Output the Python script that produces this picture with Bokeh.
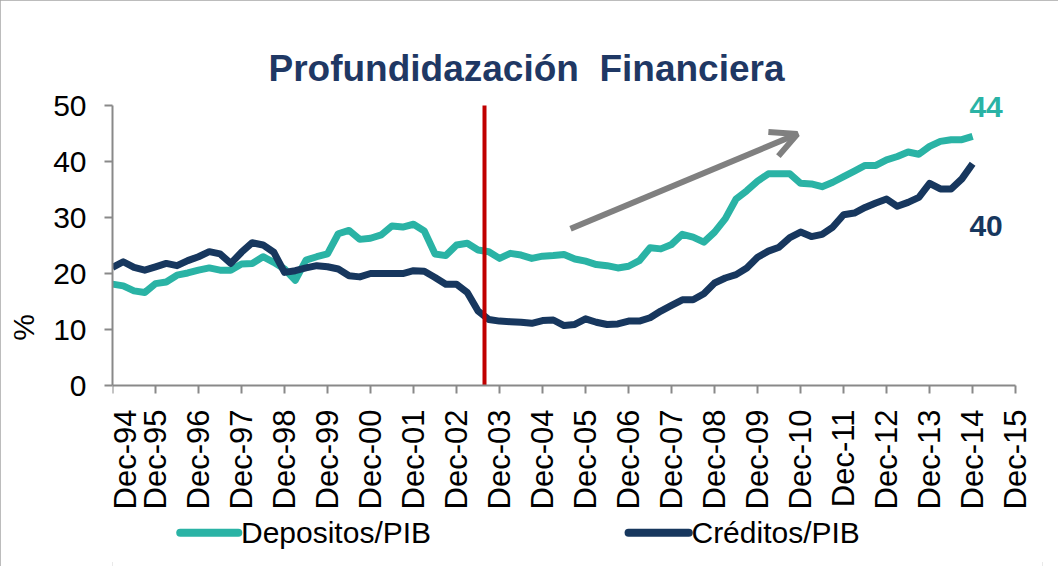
import numpy as np
from bokeh.plotting import figure
from bokeh.models import (ColumnDataSource, FixedTicker, Arrow, OpenHead, Label, Range1d)
from bokeh.core.properties import value
from bokeh.embed import file_html
from bokeh.resources import INLINE

# ---- data (quarterly, Dec-94 .. Dec-14) ----
depositos = [
    18.1, 17.8, 16.9, 16.6, 18.2, 18.5, 19.7, 20.1, 20.6, 21.0,
    20.6, 20.6, 21.7, 21.8, 23.0, 22.0, 20.8, 18.8, 22.4, 23.0,
    23.5, 27.1, 27.7, 26.1, 26.3, 26.9, 28.5, 28.3, 28.8, 27.6,
    23.5, 23.2, 25.1, 25.4, 24.2, 23.9, 22.7, 23.6, 23.3, 22.7,
    23.1, 23.2, 23.4, 22.6, 22.2, 21.6, 21.4, 21.0, 21.3, 22.3,
    24.6, 24.4, 25.2, 27.0, 26.5, 25.6, 27.4, 29.8, 33.3, 34.8,
    36.5, 37.8, 37.8, 37.8, 36.1, 36.0, 35.5, 36.3, 37.3, 38.3,
    39.3, 39.3, 40.3, 40.9, 41.7, 41.3, 42.7, 43.6, 43.9, 43.9, 44.5,
]
creditos = [
    21.1, 22.1, 21.1, 20.6, 21.2, 21.8, 21.4, 22.3, 23.0, 23.9,
    23.5, 21.8, 23.8, 25.5, 25.1, 23.8, 20.2, 20.5, 21.0, 21.4,
    21.2, 20.8, 19.6, 19.4, 20.0, 20.0, 20.0, 20.0, 20.5, 20.4,
    19.3, 18.1, 18.1, 16.6, 13.3, 11.8, 11.5, 11.4, 11.3, 11.1,
    11.6, 11.7, 10.7, 10.9, 11.9, 11.3, 10.9, 11.0, 11.5, 11.5,
    12.1, 13.3, 14.3, 15.3, 15.3, 16.4, 18.3, 19.2, 19.8, 21.0,
    22.9, 24.0, 24.7, 26.4, 27.4, 26.6, 27.0, 28.3, 30.5, 30.8,
    31.8, 32.6, 33.3, 32.0, 32.7, 33.6, 36.1, 35.1, 35.1, 36.9, 39.6,
]
tick_labels = ["Dec-94", "Dec-95", "Dec-96", "Dec-97", "Dec-98", "Dec-99", "Dec-00",
               "Dec-01", "Dec-02", "Dec-03", "Dec-04", "Dec-05", "Dec-06", "Dec-07",
               "Dec-08", "Dec-09", "Dec-10", "Dec-11", "Dec-12", "Dec-13", "Dec-14",
               "Dec-15"]
y_ticks = [0, 10, 20, 30, 40, 50]
series_names = ["Depositos/PIB", "Créditos/PIB"]
end_labels = ["44", "40"]
title_text = "Profundidazación \u00a0Financiera"
event_quarter = 34.6          # red vertical marker (mid-2003)
trend_start = (42.6, 28.0)    # grey trend arrow
trend_end = (63.7, 44.9)

# legend placement (in chart coordinates, below the x-axis labels)
legend_y = -26.3
legend_x0 = [6.3, 48.0]
legend_x1 = [11.7, 53.6]

TEAL = "#2AB3A5"
NAVY = "#17375E"
RED = "#C00000"
GREY = "#808080"
AXIS = "#898989"
FONT = "Liberation Sans"

x_last_tick = 4 * (len(tick_labels) - 1)
quarters = np.arange(len(depositos))
src = ColumnDataSource(dict(q=quarters, dep=depositos, cred=creditos))

p = figure(frame_width=930, frame_height=478, output_backend="svg", toolbar_location=None,
           x_range=Range1d(0, x_last_tick + 2.5), y_range=Range1d(-32.32, 53.04),
           min_border_left=112, min_border_right=16, min_border_top=88,
           min_border_bottom=0)
p.styles = {"outline": "4px solid #A6A6A6", "outline-offset": "-4px"}

p.title.text = title_text
p.title.text_font = FONT
p.title.text_font_size = "37px"
p.title.text_font_style = "bold"
p.title.text_color = "#1F3864"
p.title.align = "left"
p.title.offset = 156
p.title.standoff = 0

p.xgrid.visible = False
p.ygrid.visible = False
p.outline_line_color = None

r_dep = p.line("q", "dep", source=src, line_color=TEAL, line_width=7, line_join="round")
r_cred = p.line("q", "cred", source=src, line_color=NAVY, line_width=7, line_join="round")

# axes
x_tick_pos = [4 * i for i in range(len(tick_labels))]
p.xaxis.ticker = FixedTicker(ticks=x_tick_pos)
overrides = {t: lab for t, lab in zip(x_tick_pos, tick_labels)}
overrides[x_tick_pos[0]] = ""          # first label drawn separately (frame edge)
p.xaxis.major_label_overrides = overrides
p.xaxis.major_label_orientation = np.pi / 2
p.xaxis.fixed_location = y_ticks[0]
p.xaxis.bounds = (x_tick_pos[0], x_tick_pos[-1])
p.yaxis.ticker = FixedTicker(ticks=y_ticks)
p.yaxis.bounds = (y_ticks[0], y_ticks[-1])
p.yaxis.axis_label = "%"
for ax in (p.xaxis[0], p.yaxis[0]):
    ax.axis_line_color = AXIS
    ax.axis_line_width = 2
    ax.major_tick_line_color = AXIS
    ax.major_tick_line_width = 2
    ax.major_tick_out = 8
    ax.major_tick_in = 0
    ax.minor_tick_line_color = None
    ax.major_label_text_font = FONT
    ax.major_label_text_color = "black"
p.xaxis.major_label_text_font_size = "31px"
p.yaxis.major_label_text_font_size = "30px"
p.xaxis.major_label_standoff = 16
p.yaxis.major_label_standoff = 18
p.yaxis.axis_label_text_font = FONT
p.yaxis.axis_label_text_font_size = "30px"
p.yaxis.axis_label_text_font_style = "normal"
p.yaxis.axis_label_text_color = "black"
p.yaxis.axis_label_standoff = 10

# first x tick label, kept fully inside the plotting area
p.text(x=[x_tick_pos[0] + 1.2], y=[-24 / 5.6], text=[tick_labels[0]], angle=np.pi / 2,
       text_font=value(FONT), text_font_size="31px", text_color="black",
       text_align="right", text_baseline="middle")

# red marker
p.segment(x0=[event_quarter], y0=[y_ticks[0]], x1=[event_quarter], y1=[y_ticks[-1]],
          line_color=RED, line_width=4)

# trend arrow
p.add_layout(Arrow(end=OpenHead(size=26, line_color=GREY, line_width=6),
                   x_start=trend_start[0], y_start=trend_start[1],
                   x_end=trend_end[0], y_end=trend_end[1],
                   line_color=GREY, line_width=6))

# end labels
last = len(depositos) - 1
p.add_layout(Label(x=last - 0.3, y=depositos[last] + 5.3, text=end_labels[0],
                   text_font=FONT, text_font_size="30px", text_font_style="bold",
                   text_color=TEAL, text_baseline="middle"))
p.add_layout(Label(x=last - 0.3, y=creditos[last] - 11.2, text=end_labels[1],
                   text_font=FONT, text_font_size="30px", text_font_style="bold",
                   text_color=NAVY, text_baseline="middle"))

# legend (drawn below the axis labels)
p.segment(x0=legend_x0, y0=[legend_y, legend_y], x1=legend_x1, y1=[legend_y, legend_y],
          line_color=[TEAL, NAVY], line_width=8, line_cap="round")
p.text(x=[x + 0.25 for x in legend_x1], y=[legend_y, legend_y], text=series_names,
       text_font=value(FONT), text_font_size="30px", text_color="black",
       text_baseline="middle", text_align="left")

open("out.html", "w").write(file_html(p, INLINE))
